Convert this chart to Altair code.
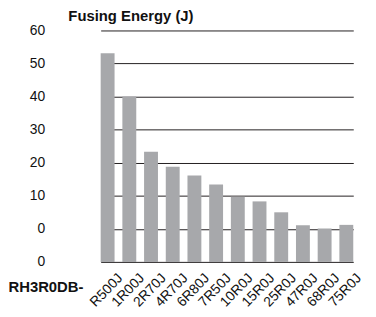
import altair as alt
import pandas as pd

parts = ["R500J", "1R00J", "2R70J", "4R70J", "6R80J", "7R50J",
         "10R0J", "15R0J", "25R0J", "47R0J", "68R0J", "75R0J"]
energy = [53.1, 40.0, 23.3, 18.8, 16.1, 13.4, 9.7, 8.3, 5.0, 1.1, 0.1, 1.2]
y_ticks = [-10, 0, 10, 20, 30, 40, 50, 60]

df = pd.DataFrame({"part": parts, "energy": energy})

FONT = "Liberation Sans"

bars = alt.Chart(df).mark_bar(color="#a7a8ab").encode(
    x=alt.X("part:N", sort=parts,
            scale=alt.Scale(paddingInner=0.36, paddingOuter=0, range=[49.7, 305.1]),
            axis=alt.Axis(title="RH3R0DB-", labelAngle=-46, labelFontSize=14,
                          labelFont=FONT, labelColor="#111", ticks=False,
                          labelAlign="right", labelBaseline="top",
                          domain=False, labelPadding=9, labelOffset=8,
                          titleFont=FONT, titleFontSize=15, titleFontWeight="bold",
                          titleColor="#111", titleAnchor="start", titleAlign="left",
                          titleBaseline="alphabetic",
                          titleX=-44, titleY=30)),
    y=alt.Y("energy:Q",
            scale=alt.Scale(domain=[-10, 60], nice=False, zero=False),
            axis=alt.Axis(title=None, values=y_ticks,
                          labelExpr="datum.value < 0 ? '0' : datum.label",
                          labelFont=FONT, labelFontSize=14, labelColor="#111",
                          ticks=False, tickSize=0, domain=False, labelPadding=7,
                          grid=True, gridColor="#231f20", gridWidth=1, gridOpacity=1)),
    y2=alt.datum(-10),
).properties(
    width=320,
    height=234,
    title=alt.TitleParams("Fusing Energy (J)", anchor="start", frame="group",
                          font=FONT, fontSize=15, fontWeight="bold", color="#111",
                          dx=17, dy=4, offset=4),
)

chart = bars.properties(
    autosize=alt.AutoSizeParams(type="none"),
    padding={"left": 44, "top": 21, "right": 0, "bottom": 54},
).configure_view(stroke=None)

chart.save("out.html", embed_options={"renderer": "svg", "actions": False})
